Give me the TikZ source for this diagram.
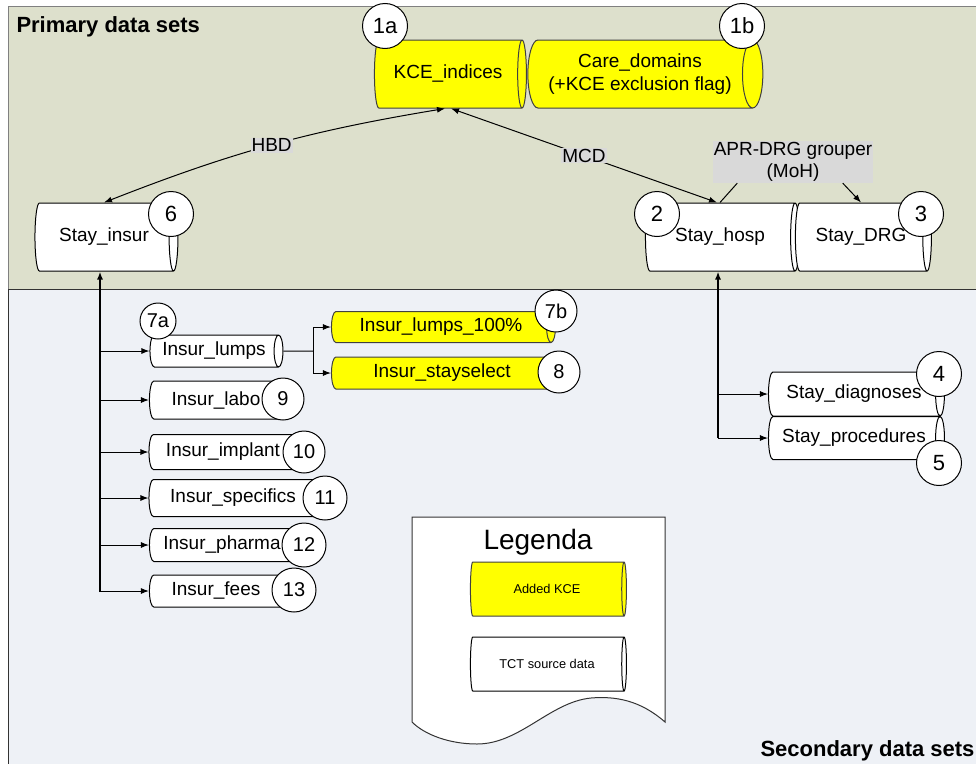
\documentclass[tikz,border=0pt]{standalone}
\usepackage{fontspec}
\setmainfont{Liberation Sans}
\usetikzlibrary{shapes.geometric,arrows.meta}

\definecolor{primbg}{RGB}{221,224,204}
\definecolor{secbg}{RGB}{238,241,246}
\definecolor{lblgrey}{RGB}{217,217,217}
\definecolor{kceyellow}{RGB}{255,255,0}

\tikzset{
  dset/.style={cylinder, shape border rotate=0, shape aspect=.5, draw, fill=white,
    inner sep=0pt, align=center, font=\fontsize{19}{23}\selectfont},
  kceset/.style={dset, draw=black!75, fill=kceyellow},
  num/.style={circle, draw, fill=white, inner sep=0pt, minimum size=45pt,
    font=\fontsize{22}{24}\selectfont},
  subnum/.style={num, minimum size=42pt, font=\fontsize{20}{22}\selectfont},
  flowlbl/.style={fill=lblgrey, inner sep=1pt, align=center, font=\fontsize{19}{22}\selectfont},
  link/.style={-{Latex[length=8pt,width=6pt]}},
  areatitle/.style={inner sep=0pt, font=\bfseries\fontsize{22}{26}\selectfont},
}

\begin{document}
\begin{tikzpicture}[x=1pt,y=-1pt,line width=1pt]
  \useasboundingbox (0,0) rectangle (976,763);
  \clip (0,0) rectangle (976,763);
  % areas
  \fill[primbg] (8,6) rectangle (990,289);
  \draw[gray] (990,6) -- (8,6) -- (8,289);
  \fill[secbg] (8,289) rectangle (990,780);
  \draw[black!80] (8,780) -- (8,289) -- (990,289);
  \node[areatitle, anchor=base west] (primtitle) at (16,32) {Primary data sets};
  \node[areatitle, anchor=base east] (sectitle) at (975,756) {Secondary data sets};

  % primary data sets (cylinder: minimum height = length, minimum width = diameter)
  \node[kceset, minimum height=152pt, minimum width=68pt] (kce) at (448,74) {KCE\_indices};
  \node[kceset, minimum height=235pt, minimum width=68pt] (care) at (640,74) {Care\_domains\\(+KCE exclusion flag)};
  \node[dset, minimum height=143pt, minimum width=68pt] (stayinsur) at (104,237) {Stay\_insur};
  \node[dset, minimum height=154pt, minimum width=68pt] (hosp) at (720,237) {Stay\_hosp};
  \node[dset, minimum height=136pt, minimum width=68pt] (drg) at (861,237) {Stay\_DRG};
  \node[num] (n1a) at (385,26) {1a};
  \node[num] (n1b) at (742,26) {1b};
  \node[num] (n2) at (657,214) {2};
  \node[num] (n3) at (921,214) {3};
  \node[num] (n6) at (171,214) {6};

  \draw[{Latex[length=8pt,width=6pt]}-{Latex[length=8pt,width=6pt]}] ([xshift=-3pt]kce.south) to[bend right=6] node[flowlbl] {HBD} (stayinsur.north);
  \draw[{Latex[length=8pt,width=6pt]}-{Latex[length=8pt,width=6pt]}] ([xshift=3pt]kce.south) -- node[flowlbl] {MCD} ([xshift=-3pt]hosp.north);
  \node[flowlbl] (grouper) at (793,162) {APR-DRG grouper\\(MoH)};
  \draw (hosp.north) -- ([xshift=25pt]grouper.south west);
  \draw[link] ([xshift=-31pt]grouper.south east) -- (drg.north);

  % secondary data sets
  \node[dset, minimum height=133pt, minimum width=32pt] (lumps) at (214,351) {Insur\_lumps};
  \node[dset, minimum height=138pt, minimum width=38pt] (labo) at (216,400) {Insur\_labo};
  \node[dset, minimum height=153pt, minimum width=35pt] (implant) at (223,452) {Insur\_implant};
  \node[dset, minimum height=173pt, minimum width=37pt] (specifics) at (233,498) {Insur\_specifics};
  \node[dset, minimum height=150pt, minimum width=33pt] (pharma) at (222,545) {Insur\_pharma};
  \node[dset, minimum height=138pt, minimum width=32pt] (fees) at (216,591) {Insur\_fees};
  \node[kceset, minimum height=224pt, minimum width=31pt] (lumpsfull) at (441,327) {Insur\_lumps\_100\%};
  \node[kceset, minimum height=226pt, minimum width=32pt] (stayselect) at (442,373) {Insur\_stayselect};
  \node[dset, minimum height=176pt, minimum width=44pt] (diag) at (854,394) {Stay\_diagnoses};
  \node[dset, minimum height=176pt, minimum width=43pt] (proc) at (854,438) {Stay\_procedures};

  \node[num, minimum size=36pt, font=\fontsize{20}{22}\selectfont] (n7a) at (158,321) {7a};
  \node[subnum] (n7b) at (556,311) {7b};
  \node[subnum] (n8) at (559,372) {8};
  \node[subnum] (n9) at (283,399) {9};
  \node[subnum] (n10) at (304,452) {10};
  \node[subnum, minimum size=44pt] (n11) at (325,498) {11};
  \node[subnum, minimum size=44pt] (n12) at (304,545) {12};
  \node[subnum, minimum size=44pt] (n13) at (294,590) {13};
  \node[num] (n4) at (939,374) {4};
  \node[num] (n5) at (939,463) {5};

  \coordinate (insurbus) at (100,592);
  \draw[link, line width=1.8pt] (insurbus) -- (insurbus |- stayinsur.south);
  \foreach \t in {lumps,labo,implant,specifics,pharma,fees}
    \draw[link] (insurbus |- \t.west) -- (\t.west);
  \coordinate (lumpsfork) at (313,351);
  \draw (lumps.east) -- (lumpsfork);
  \draw[link] (lumpsfork) |- (lumpsfull.west);
  \draw[link] (lumpsfork) |- (stayselect.west);
  \coordinate (hospbus) at (718,438);
  \draw[link, line width=1.5pt] (hospbus) -- (hospbus |- hosp.south);
  \draw[link] (hospbus |- diag.west) -- (diag.west);
  \draw[link] (hospbus) -- (proc.west);

  % legend
  \draw[fill=white, draw=black!80] (412,722) -- (412,517) -- (665,517) -- (665,722)
    .. controls (640,700) and (615,696) .. (591,698)
    .. controls (550,702) and (520,744) .. (477,744)
    .. controls (450,744) and (425,735) .. (412,722) -- cycle;
  \node[anchor=base, inner sep=0pt, font=\fontsize{28}{30}\selectfont] (legtitle) at (538,549) {Legenda};
  \node[kceset, minimum height=156pt, minimum width=54pt, font=\fontsize{12.8}{15}\selectfont] (legkce) at (547,589) {Added KCE};
  \node[dset, minimum height=156pt, minimum width=54pt, font=\fontsize{12.8}{15}\selectfont] (legtct) at (547,664) {TCT source data};
\end{tikzpicture}
\end{document}
